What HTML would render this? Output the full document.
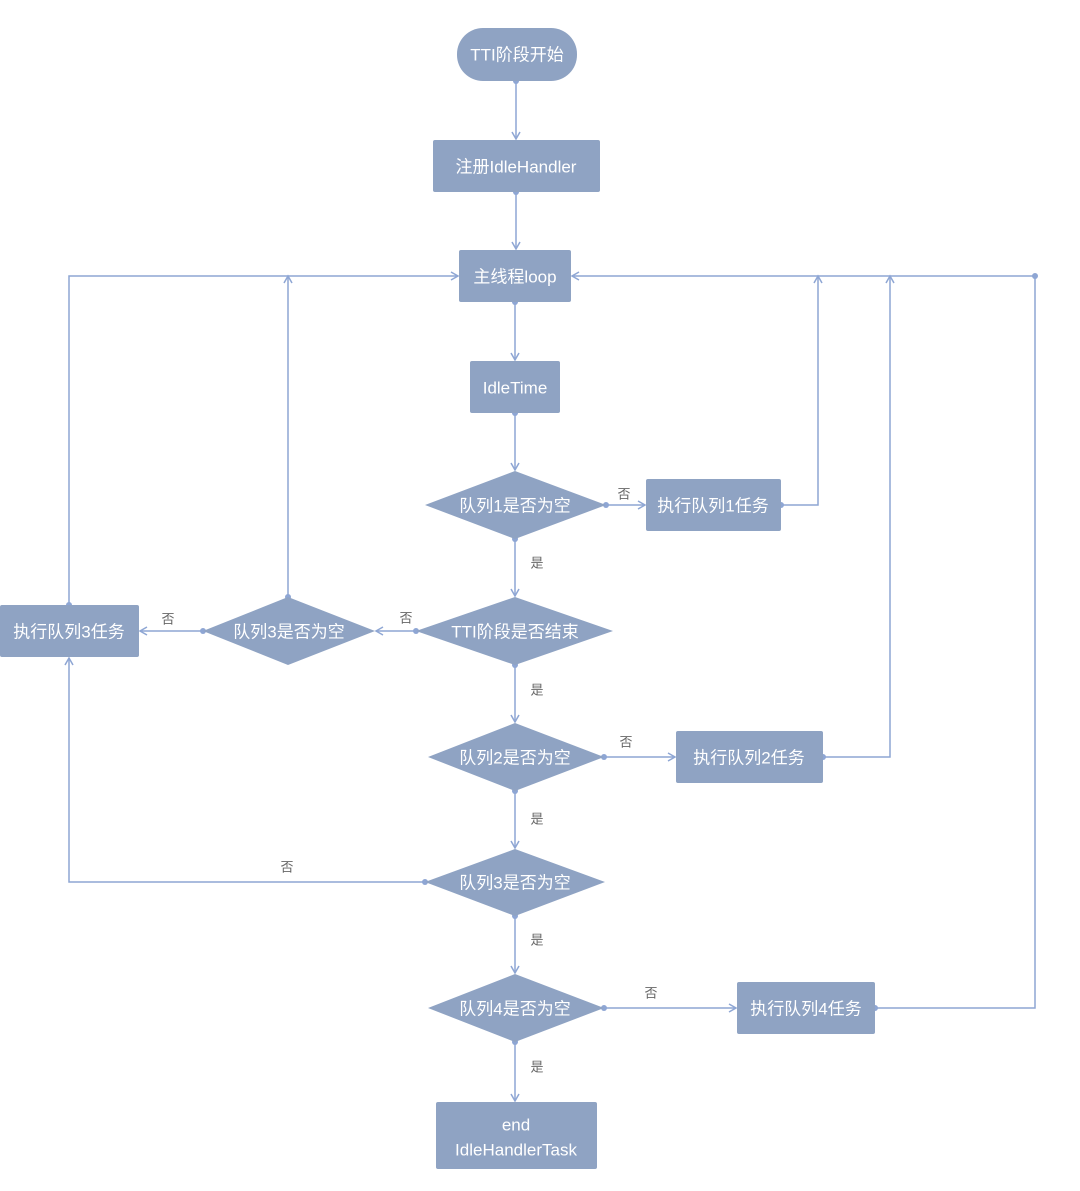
<!DOCTYPE html>
<html><head><meta charset="utf-8"><style>
html,body{margin:0;padding:0;background:#fff}
svg{display:block}
.t{font-family:"Liberation Sans","Noto Sans CJK SC",sans-serif;font-size:17px;fill:#fff;text-anchor:middle;dominant-baseline:central}
.l{font-family:"Liberation Sans","Noto Sans CJK SC",sans-serif;font-size:13px;fill:#666;text-anchor:middle;dominant-baseline:central}
.n{fill:#8fa3c3}
.e{stroke:#8ea6d4;stroke-width:1.5;fill:none}
.d{fill:#8ea6d4}
</style></head><body>
<svg width="1080" height="1191" viewBox="0 0 1080 1191" xmlns="http://www.w3.org/2000/svg">
<defs><marker id="a" markerWidth="10" markerHeight="10" refX="8" refY="5" orient="auto" markerUnits="userSpaceOnUse"><path d="M1,1 L8,5 L1,9" fill="none" stroke="#8ea6d4" stroke-width="1.5"/></marker></defs>
<g class="e">
<path d="M516,81 V139" marker-end="url(#a)"/>
<path d="M516,192 V249" marker-end="url(#a)"/>
<path d="M515,302 V360" marker-end="url(#a)"/>
<path d="M515,413 V470" marker-end="url(#a)"/>
<path d="M606,505 H645" marker-end="url(#a)"/>
<path d="M781,505 H818 V276" marker-end="url(#a)"/>
<path d="M515,539 V596" marker-end="url(#a)"/>
<path d="M416,631 H376" marker-end="url(#a)"/>
<path d="M203,631 H140" marker-end="url(#a)"/>
<path d="M288,597 V276" marker-end="url(#a)"/>
<path d="M69,605 V276 H458" marker-end="url(#a)"/>
<path d="M515,665 V722" marker-end="url(#a)"/>
<path d="M604,757 H675" marker-end="url(#a)"/>
<path d="M823,757 H890 V276" marker-end="url(#a)"/>
<path d="M515,791 V848" marker-end="url(#a)"/>
<path d="M425,882 H69 V658" marker-end="url(#a)"/>
<path d="M515,916 V973" marker-end="url(#a)"/>
<path d="M604,1008 H736" marker-end="url(#a)"/>
<path d="M875,1008 H1035 V276 H572" marker-end="url(#a)"/>
<path d="M515,1042 V1101" marker-end="url(#a)"/>
</g>
<g class="d">
<circle cx="516" cy="81" r="3"/><circle cx="516" cy="192" r="3"/><circle cx="515" cy="302" r="3"/><circle cx="515" cy="413" r="3"/>
<circle cx="606" cy="505" r="3"/><circle cx="781" cy="505" r="3"/><circle cx="515" cy="539" r="3"/><circle cx="416" cy="631" r="3"/>
<circle cx="203" cy="631" r="3"/><circle cx="288" cy="597" r="3"/><circle cx="69" cy="605" r="3"/><circle cx="515" cy="665" r="3"/>
<circle cx="604" cy="757" r="3"/><circle cx="823" cy="757" r="3"/><circle cx="515" cy="791" r="3"/><circle cx="425" cy="882" r="3"/>
<circle cx="515" cy="916" r="3"/><circle cx="604" cy="1008" r="3"/><circle cx="875" cy="1008" r="3"/><circle cx="515" cy="1042" r="3"/><circle cx="1035" cy="276" r="3"/>
</g>
<rect class="n" x="457" y="28" width="120" height="53" rx="26"/><text class="t" x="517" y="55">TTI阶段开始</text>
<rect class="n" x="433" y="140" width="167" height="52" rx="2"/><text class="t" x="516" y="167">注册IdleHandler</text>
<rect class="n" x="459" y="250" width="112" height="52" rx="2"/><text class="t" x="515" y="277">主线程loop</text>
<rect class="n" x="470" y="361" width="90" height="52" rx="2"/><text class="t" x="515" y="388">IdleTime</text>
<polygon class="n" points="425,505 515,471 606,505 515,539"/><text class="t" x="515" y="506">队列1是否为空</text>
<rect class="n" x="646" y="479" width="135" height="52" rx="2"/><text class="t" x="713" y="506">执行队列1任务</text>
<polygon class="n" points="416,631 515,597 613,631 515,665"/><text class="t" x="515" y="632">TTI阶段是否结束</text>
<polygon class="n" points="203,631 288,597 375,631 288,665"/><text class="t" x="289" y="632">队列3是否为空</text>
<rect class="n" x="0" y="605" width="139" height="52" rx="2"/><text class="t" x="69" y="632">执行队列3任务</text>
<polygon class="n" points="428,757 515,723 604,757 515,791"/><text class="t" x="515" y="758">队列2是否为空</text>
<rect class="n" x="676" y="731" width="147" height="52" rx="2"/><text class="t" x="749" y="758">执行队列2任务</text>
<polygon class="n" points="425,882 515,849 605,882 515,916"/><text class="t" x="515" y="883">队列3是否为空</text>
<polygon class="n" points="428,1008 515,974 604,1008 515,1042"/><text class="t" x="515" y="1009">队列4是否为空</text>
<rect class="n" x="737" y="982" width="138" height="52" rx="2"/><text class="t" x="806" y="1009">执行队列4任务</text>
<rect class="n" x="436" y="1102" width="161" height="67" rx="2"/><text class="t" x="516" y="1125">end</text><text class="t" x="516" y="1150">IdleHandlerTask</text>
<g>
<text class="l" x="624" y="494">否</text>
<text class="l" x="537" y="563">是</text>
<text class="l" x="406" y="618">否</text>
<text class="l" x="168" y="619">否</text>
<text class="l" x="537" y="690">是</text>
<text class="l" x="626" y="742">否</text>
<text class="l" x="537" y="819">是</text>
<text class="l" x="287" y="867">否</text>
<text class="l" x="537" y="940">是</text>
<text class="l" x="651" y="993">否</text>
<text class="l" x="537" y="1067">是</text>
</g>
</svg>
</body></html>
